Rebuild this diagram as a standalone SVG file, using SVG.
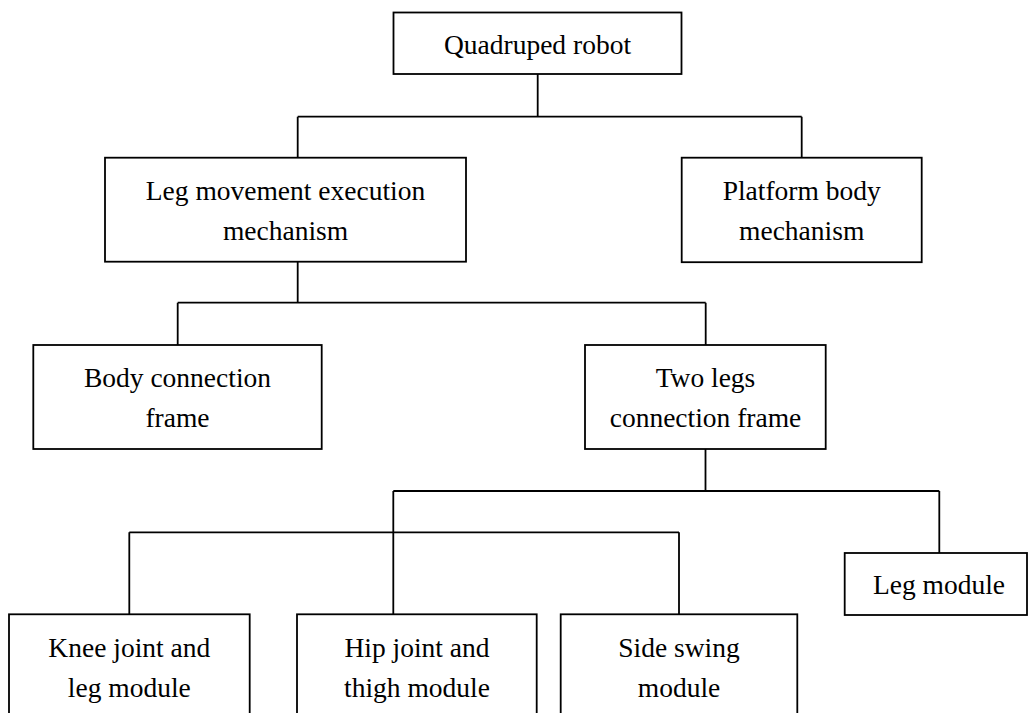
<svg xmlns="http://www.w3.org/2000/svg" width="1030" height="713" viewBox="0 0 1030 713">
<style>
  rect { fill: #fff; stroke: #000; stroke-width: 1.8; }
  text { font-family: "Liberation Serif", "Times New Roman", serif; font-size: 27.5px; fill: #000; text-anchor: middle; }
  .conn path { fill: none; stroke: #000; stroke-width: 1.8; }
</style>
<rect x="0" y="0" width="1030" height="713" style="stroke:none"/>
<g class="conn" id="connectors">
  <path d="M537.7,74 V116.7 M297.7,116.7 H801.7 M297.7,116.7 V157.7 M801.7,116.7 V157.7"/>
  <path d="M297.7,262 V302.7 M177.7,302.7 H705.7 M177.7,302.7 V345 M705.7,302.7 V345"/>
  <path d="M705.5,449 V491 M393.3,491 H939.3 M939.3,491 V553 M393.3,491 V614.3"/>
  <path d="M129.3,532.3 H679 M129.3,532.3 V614.3 M679,532.3 V614.3"/>
</g>
<g id="quadruped">
  <rect x="393.5" y="12.5" width="288" height="61.5"/>
  <text x="537.5" y="53.5">Quadruped robot</text>
</g>
<g id="leg-movement">
  <rect x="105" y="157.7" width="361" height="104"/>
  <text x="285.5" y="200">Leg movement execution</text>
  <text x="285.5" y="239.5">mechanism</text>
</g>
<g id="platform">
  <rect x="681.7" y="157.7" width="240" height="104.5"/>
  <text x="801.7" y="200">Platform body</text>
  <text x="801.7" y="239.5">mechanism</text>
</g>
<g id="body-connection">
  <rect x="33.3" y="345" width="288.4" height="104"/>
  <text x="177.5" y="386.7">Body connection</text>
  <text x="177.5" y="426.7">frame</text>
</g>
<g id="two-legs">
  <rect x="585" y="345" width="240.7" height="104"/>
  <text x="705.5" y="386.7">Two legs</text>
  <text x="705.5" y="426.7">connection frame</text>
</g>
<g id="leg-module">
  <rect x="844.7" y="553" width="182.3" height="62"/>
  <text x="939" y="594">Leg module</text>
</g>
<g id="knee">
  <rect x="9" y="614.3" width="240.7" height="110"/>
  <text x="129.3" y="656.7">Knee joint and</text>
  <text x="129.3" y="697.3">leg module</text>
</g>
<g id="hip">
  <rect x="297" y="614.3" width="239.7" height="110"/>
  <text x="417" y="656.7">Hip joint and</text>
  <text x="417" y="697.3">thigh module</text>
</g>
<g id="side-swing">
  <rect x="560.7" y="614.3" width="236.6" height="110"/>
  <text x="679" y="656.7">Side swing</text>
  <text x="679" y="697.3">module</text>
</g>
</svg>
